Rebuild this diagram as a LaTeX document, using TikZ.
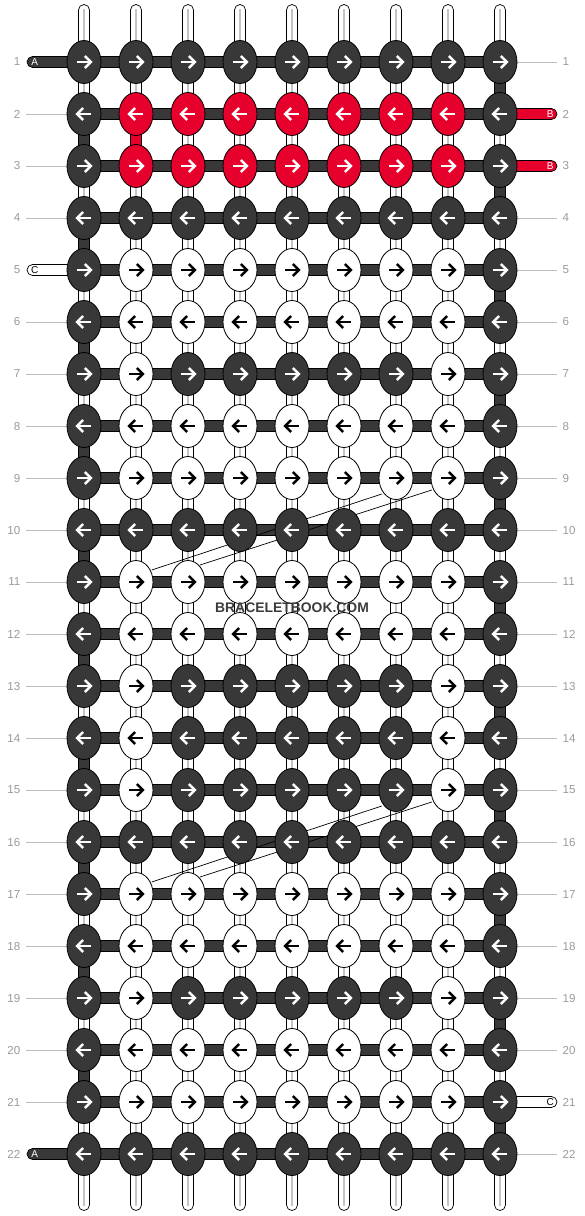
\documentclass[tikz,border=0pt]{standalone}
\usepackage{fontspec}
\setmainfont{Liberation Sans}
\usetikzlibrary{shapes.geometric,calc}
\definecolor{kdark}{HTML}{383838}
\definecolor{kred}{HTML}{E8002C}
\definecolor{lblgray}{HTML}{9A9A9A}
\definecolor{linegray}{HTML}{BDBDBD}
\definecolor{midgray}{HTML}{C4C4C4}
\definecolor{wmgray}{HTML}{3C3C3C}
\pgfdeclarelayer{bg}
\pgfsetlayers{bg,main}
\begin{document}
\begin{tikzpicture}[x=1pt,y=-1pt,
  knot/.style={ellipse, draw=black, line width=0.8pt, minimum width=34pt, minimum height=43pt, inner sep=0pt},
  kD/.style={fill=kdark}, kR/.style={fill=kred}, kW/.style={fill=white},
  arrD/.style={draw=white}, arrR/.style={draw=white}, arrW/.style={draw=black},
  arrowline/.style={line width=2.4pt},
  vW/.style={fill=white, draw=black, line width=0.7pt},
  vD/.style={fill=kdark, draw=black, line width=0.7pt},
  vR/.style={fill=kred, draw=black, line width=0.7pt},
  core/.style={draw=midgray, line width=1.2pt},
  hstrand/.style={fill=kdark, draw=black, line width=0.7pt},
  guide/.style={draw=linegray, line width=0.9pt},
  rowlbl/.style={text=lblgray, font=\fontsize{11.6}{13}\selectfont, inner sep=0pt},
  stubtxt/.style={font=\fontsize{10}{12}\selectfont, inner sep=0pt},
  diag/.style={draw=black, line width=0.7pt},
  wmtext/.style={text=wmgray, font=\bfseries\fontsize{13.9}{16}\selectfont, inner sep=0pt}
]
\useasboundingbox (0,0) rectangle (584,1216);

% knots
\foreach \i/\cols in {
  1/{D,D,D,D,D,D,D,D,D}, 2/{D,R,R,R,R,R,R,R,D}, 3/{D,R,R,R,R,R,R,R,D},
  4/{D,D,D,D,D,D,D,D,D}, 5/{D,W,W,W,W,W,W,W,D}, 6/{D,W,W,W,W,W,W,W,D},
  7/{D,W,D,D,D,D,D,W,D}, 8/{D,W,W,W,W,W,W,W,D}, 9/{D,W,W,W,W,W,W,W,D},
  10/{D,D,D,D,D,D,D,D,D}, 11/{D,W,W,W,W,W,W,W,D}, 12/{D,W,W,W,W,W,W,W,D},
  13/{D,W,D,D,D,D,D,W,D}, 14/{D,W,D,D,D,D,D,W,D}, 15/{D,W,D,D,D,D,D,W,D},
  16/{D,D,D,D,D,D,D,D,D}, 17/{D,W,W,W,W,W,W,W,D}, 18/{D,W,W,W,W,W,W,W,D},
  19/{D,W,D,D,D,D,D,W,D}, 20/{D,W,W,W,W,W,W,W,D}, 21/{D,W,W,W,W,W,W,W,D},
  22/{D,D,D,D,D,D,D,D,D}} {
  \pgfmathsetmacro\yy{62+52*(\i-1)}
  \pgfmathsetmacro\dir{ifthenelse(mod(\i,2)==1,1,-1)}
  \foreach \c [count=\j] in \cols {
    \node[knot,k\c] (k-\i-\j) at ({84+52*(\j-1)},\yy) {};
    \begin{scope}[shift={(k-\i-\j.center)}, xscale=\dir]
      \draw[arrowline, arr\c] (-7,0) -- (6.5,0);
      \draw[arrowline, arr\c] (0.8,-6) -- (7,0) -- (0.8,6);
    \end{scope}
  }
}

\begin{pgfonlayer}{bg}
  % top and bottom strand ends
  \foreach \j in {1,...,9} {
    \pgfmathsetmacro\xx{84+52*(\j-1)}
    \draw[vW, rounded corners=5.5pt] (\xx-5.5,62) rectangle (\xx+5.5,4.5);
    \draw[core] (\xx,9) -- (k-1-\j.center);
    \draw[vW, rounded corners=5.5pt] (\xx-5.5,1154) rectangle (\xx+5.5,1210.5);
    \draw[core] (k-22-\j.center) -- (\xx,1206);
  }
  % vertical segments between rows
  \foreach \i in {1,...,21} {
    \pgfmathtruncatemacro\ii{\i+1}
    \foreach \j in {1,...,9} {
      \pgfmathtruncatemacro\vt{(\j==1)*(1-mod(\i,2)) + (\j==9)*mod(\i,2)}
      \pgfmathtruncatemacro\vr{(\j==2)*(\i==2)}
      \ifnum\vr=1
        \draw[vR] ([xshift=-5.5pt]k-\i-\j.center) rectangle ([xshift=5.5pt]k-\ii-\j.center);
      \else
        \ifnum\vt=1
          \draw[vD] ([xshift=-5.5pt]k-\i-\j.center) rectangle ([xshift=5.5pt]k-\ii-\j.center);
        \else
          \draw[vW] ([xshift=-5.5pt]k-\i-\j.center) rectangle ([xshift=5.5pt]k-\ii-\j.center);
          \draw[core] (k-\i-\j.center) -- (k-\ii-\j.center);
        \fi
      \fi
    }
  }
  % horizontal working strands
  \foreach \i in {1,...,22} {
    \draw[hstrand] ([yshift=5.5pt]k-\i-1.center) rectangle ([yshift=-5.5pt]k-\i-9.center);
  }
  % left stubs
  \foreach \i/\st/\lt/\tc in {1/vD/A/white, 5/vW/C/black, 22/vD/A/white} {
    \pgfmathsetmacro\yy{62+52*(\i-1)}
    \draw[\st, rounded corners=5.5pt] (27,\yy-5.5) rectangle ([yshift=-5.5pt]k-\i-1.center);
    \node[stubtxt, text=\tc] (sl-\i) at (34.7,\yy) {\lt};
  }
  % right stubs
  \foreach \i/\st/\lt/\tc in {2/vR/B/white, 3/vR/B/white, 21/vW/C/black} {
    \pgfmathsetmacro\yy{62+52*(\i-1)}
    \draw[\st, rounded corners=5.5pt] ([yshift=5.5pt]k-\i-9.center) rectangle (557,\yy+5.5);
    \node[stubtxt, text=\tc] (sr-\i) at (550.3,\yy) {\lt};
  }
  % guide lines
  \foreach \i in {2,3,4,6,7,8,9,10,11,12,13,14,15,16,17,18,19,20,21} {
    \pgfmathsetmacro\yy{62+52*(\i-1)}
    \coordinate (gl-\i) at (26,\yy);
    \draw[guide] (gl-\i) -- (k-\i-1.west);
  }
  \foreach \i in {1,4,5,6,7,8,9,10,11,12,13,14,15,16,17,18,19,20,22} {
    \pgfmathsetmacro\yy{62+52*(\i-1)}
    \coordinate (gr-\i) at (557,\yy);
    \draw[guide] (k-\i-9.east) -- (gr-\i);
  }
  % diagonal marks
  \foreach \a/\b in {11/9, 17/15} {
    \draw[diag] ([shift={(15.7,-12)}]k-\a-2.center) -- ([shift={(-14.3,16)}]k-\b-7.center);
    \draw[diag] ([shift={(12,-17)}]k-\a-3.center) -- ([shift={(-16.3,12)}]k-\b-8.center);
  }
\end{pgfonlayer}

% row labels
\foreach \i in {1,...,22} {
  \pgfmathsetmacro\yy{62+52*(\i-1)}
  \node[rowlbl, anchor=east] (ll-\i) at (20.5,\yy) {\i};
  \node[rowlbl, anchor=west] (lr-\i) at (562.5,\yy) {\i};
}

% watermark
\node[wmtext] (wm) at (292,608) {BRACELETBOOK.COM};
\end{tikzpicture}
\end{document}
